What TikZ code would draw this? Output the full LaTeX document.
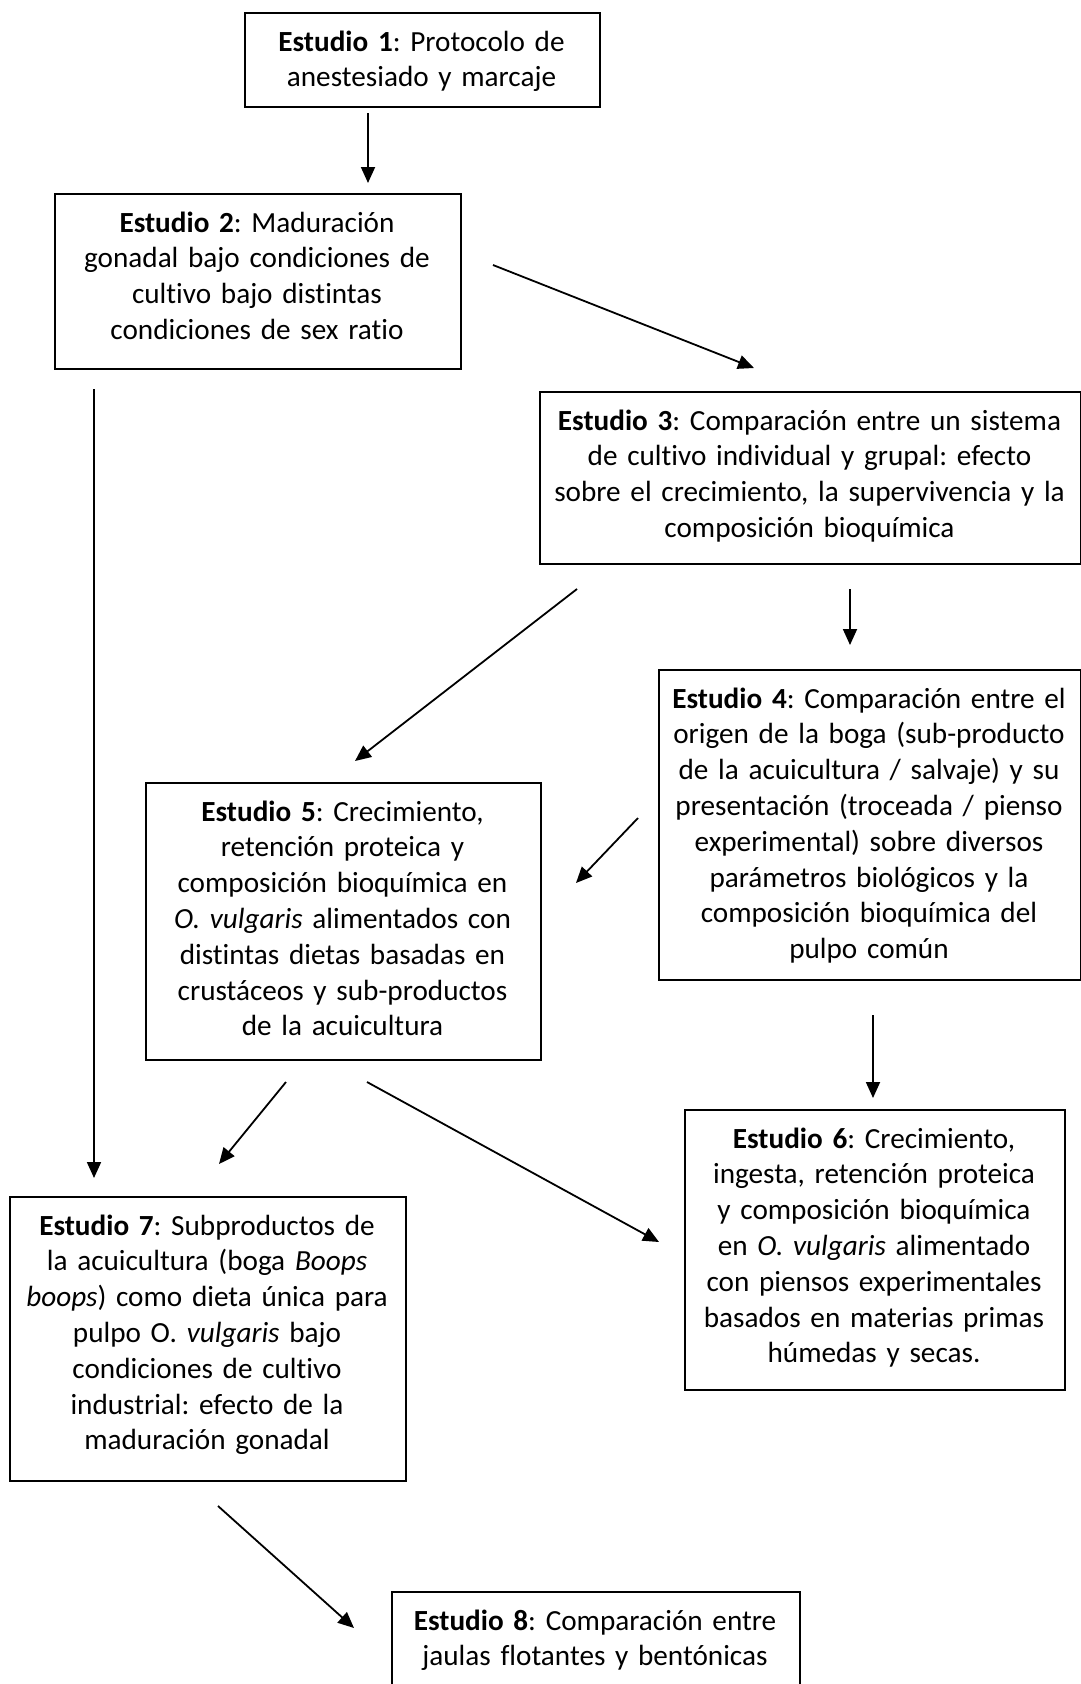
\documentclass[tikz,border=0pt]{standalone}
\usepackage{fontspec}
\setmainfont{Carlito}[Ligatures=NoCommon]
\usetikzlibrary{arrows.meta}
\frenchspacing
\tikzset{
  box/.style={draw=black, line width=1.8pt, fill=none, inner sep=0pt, anchor=north west},
  txt/.style={align=center, inner sep=0pt, anchor=base, font=\fontsize{29.2}{35.8}\selectfont\frenchspacing},
  conn/.style={line width=1.8pt, -{Triangle[length=16pt,width=14pt]}}
}
\begin{document}
\begin{tikzpicture}[x=1pt,y=-1pt]
\useasboundingbox (0,0) rectangle (1081,1684);
\clip (0,0) rectangle (1081,1684);
\fill[white] (0,0) rectangle (1081,1684);

% boxes
\node[box, minimum width=355pt, minimum height=94pt] (s1) at (244,12) {};
\node[box, minimum width=406pt, minimum height=175pt] (s2) at (54,193) {};
\node[box, minimum width=541pt, minimum height=172pt] (s3) at (539,391) {};
\node[box, minimum width=422pt, minimum height=310pt] (s4) at (658,669) {};
\node[box, minimum width=395pt, minimum height=277pt] (s5) at (145,782) {};
\node[box, minimum width=380pt, minimum height=280pt] (s6) at (684,1109) {};
\node[box, minimum width=396pt, minimum height=284pt] (s7) at (9,1196) {};
\node[box, minimum width=408pt, minimum height=130pt] (s8) at (391,1591) {};

% texts
\node[txt, text width=345pt] (t1) at (421.5,51) {\textbf{Estudio 1}: Protocolo de\\anestesiado y marcaje};
\node[txt, text width=396pt] (t2) at (257,232) {\textbf{Estudio 2}: Maduración\\gonadal bajo condiciones de\\cultivo bajo distintas\\condiciones de sex ratio};
\node[txt, text width=535pt] (t3) at (809.5,430) {\textbf{Estudio 3}: Comparación entre un sistema\\de cultivo individual y grupal: efecto\\sobre el crecimiento, la supervivencia y la\\composición bioquímica};
\node[txt, text width=414pt] (t4) at (869,708) {\textbf{Estudio 4}: Comparación entre el\\origen de la boga (sub-producto\\de la acuicultura / salvaje) y su\\presentación (troceada / pienso\\experimental) sobre diversos\\parámetros biológicos y la\\composición bioquímica del\\pulpo común};
\node[txt, text width=387pt] (t5) at (342.5,821) {\textbf{Estudio 5}: Crecimiento,\\retención proteica y\\composición bioquímica en\\\textit{O. vulgaris} alimentados con\\distintas dietas basadas en\\crustáceos y sub-productos\\de la acuicultura};
\node[txt, text width=372pt] (t6) at (874,1148) {\textbf{Estudio 6}: Crecimiento,\\ingesta, retención proteica\\y composición bioquímica\\en \textit{O. vulgaris} alimentado\\con piensos experimentales\\basados en materias primas\\húmedas y secas.};
\node[txt, text width=388pt] (t7) at (207,1235) {\textbf{Estudio 7}: Subproductos de\\la acuicultura (boga \textit{Boops}\\\textit{boops}) como dieta única para\\pulpo O. \textit{vulgaris} bajo\\condiciones de cultivo\\industrial: efecto de la\\maduración gonadal};
\node[txt, text width=400pt] (t8) at (595,1630) {\textbf{Estudio 8}: Comparación entre\\jaulas flotantes y bentónicas};

% connector end points
\coordinate (a1s) at (368,113);  \coordinate (a1e) at (368,183);
\coordinate (a2s) at (493,265);  \coordinate (a2e) at (754,368);
\coordinate (a3s) at (94,389);   \coordinate (a3e) at (94,1178);
\coordinate (a4s) at (577,589);  \coordinate (a4e) at (355,761);
\coordinate (a5s) at (850,589);  \coordinate (a5e) at (850,645);
\coordinate (a6s) at (638,818);  \coordinate (a6e) at (576,883);
\coordinate (a7s) at (873,1015); \coordinate (a7e) at (873,1098);
\coordinate (a8s) at (286,1082); \coordinate (a8e) at (219,1164);
\coordinate (a9s) at (367,1082); \coordinate (a9e) at (659,1242);
\coordinate (a10s) at (218,1506); \coordinate (a10e) at (354,1628);

\draw[conn] (a1s) -- (a1e);
\draw[conn] (a2s) -- (a2e);
\draw[conn] (a3s) -- (a3e);
\draw[conn] (a4s) -- (a4e);
\draw[conn] (a5s) -- (a5e);
\draw[conn] (a6s) -- (a6e);
\draw[conn] (a7s) -- (a7e);
\draw[conn] (a8s) -- (a8e);
\draw[conn] (a9s) -- (a9e);
\draw[conn] (a10s) -- (a10e);
\end{tikzpicture}
\end{document}
